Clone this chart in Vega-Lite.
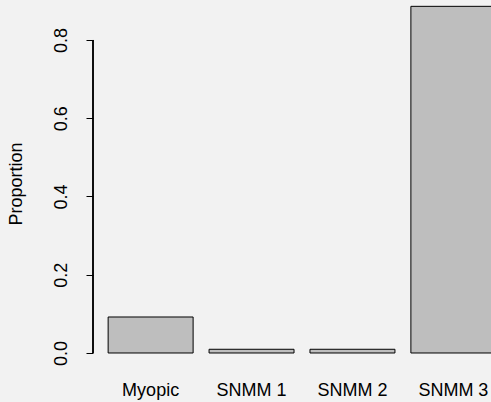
{
  "$schema": "https://vega.github.io/schema/vega-lite/v6.json",
  "autosize": "none",
  "padding": {"left": 93, "top": 0, "right": 0, "bottom": 35},
  "width": 418,
  "height": 367,
  "background": "#f2f2f2",
  "config": {
    "view": {"stroke": null},
    "font": "Liberation Sans",
    "axis": {"labelFont": "Liberation Sans", "titleFont": "Liberation Sans", "labelColor": "#000000", "titleColor": "#000000", "grid": false}
  },
  "data": {
    "values": [
      {"model": "Myopic", "proportion": 0.092},
      {"model": "SNMM 1", "proportion": 0.0095},
      {"model": "SNMM 2", "proportion": 0.0095},
      {"model": "SNMM 3", "proportion": 0.886}
    ]
  },
  "layer": [
    {
      "mark": {"type": "bar", "fill": "#bebebe", "stroke": "#000000", "strokeWidth": 1},
      "encoding": {
        "x": {
          "field": "model", "type": "nominal", "sort": null,
          "scale": {"paddingInner": 0.158, "paddingOuter": 0.15},
          "axis": {"title": null, "domain": false, "ticks": false, "labelAngle": 0, "labelFontSize": 18, "labelPadding": 14}
        },
        "y": {
          "field": "proportion", "type": "quantitative",
          "scale": {"domain": [-0.0358, 0.9022], "nice": false, "zero": false},
          "axis": {
            "title": "Proportion", "titleFontSize": 18, "titleFontWeight": "normal", "titlePadding": 27,
            "values": [0, 0.2, 0.4, 0.6, 0.8], "format": ".1f",
            "labelAngle": -90, "labelFontSize": 18, "labelPadding": 16,
            "domain": false, "tickSize": 7, "tickColor": "#000000", "tickWidth": 1
          }
        },
        "y2": {"datum": 0}
      }
    },
    {
      "mark": {"type": "rule", "color": "#000000", "strokeWidth": 1},
      "encoding": {
        "x": {"value": 0},
        "y": {"datum": 0},
        "y2": {"datum": 0.8}
      }
    }
  ]
}
